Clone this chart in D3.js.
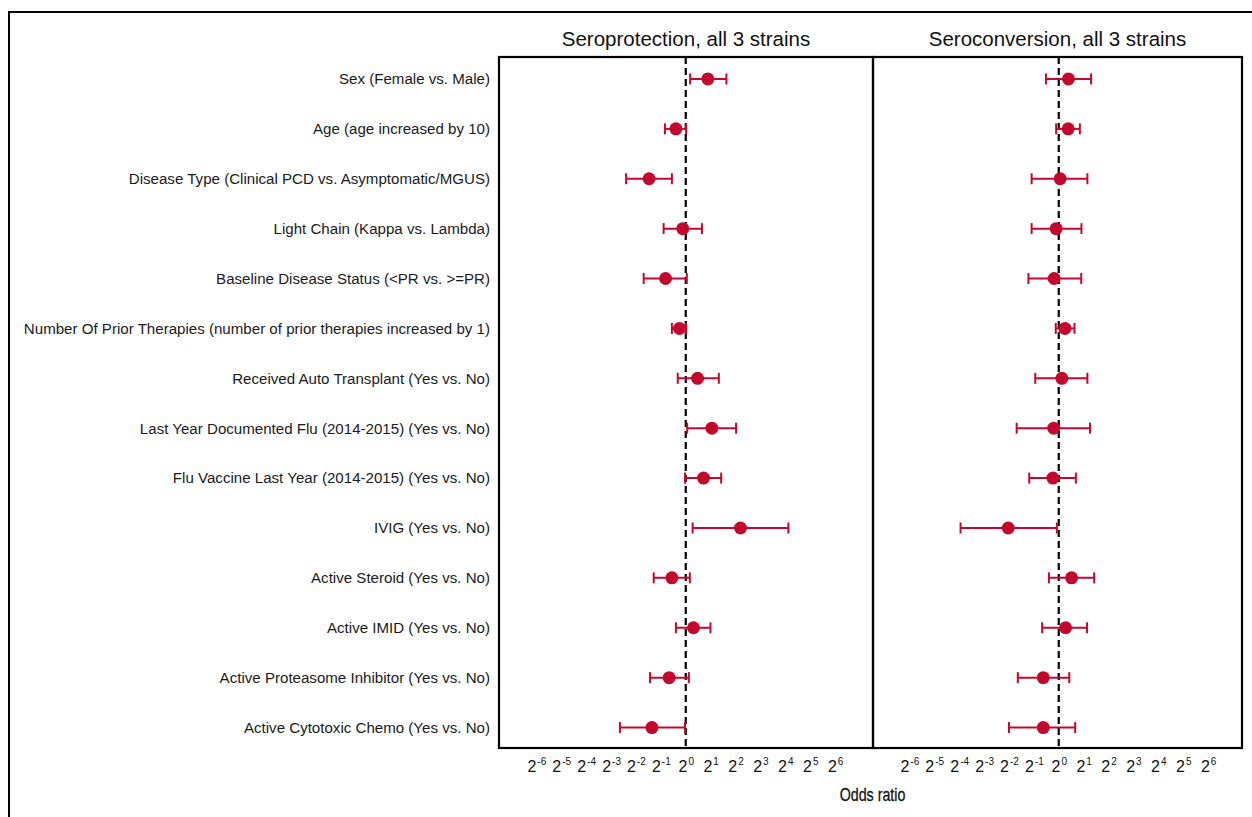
<!DOCTYPE html>
<html lang="en">
<head>
    <meta charset="UTF-8">
    <title>Seroprotection / Seroconversion odds ratios</title>
    <style>
        body { margin: 0; background: #fff; }
        .row-label text { font-family: "Liberation Sans", Arial, sans-serif; font-size: 15.1px; fill: #1a1a1a; }
        .panel-title { font-family: "Liberation Sans", Arial, sans-serif; font-size: 20.5px; fill: #111; text-anchor: middle; }
        .x-axis text { font-family: "Liberation Sans", Arial, sans-serif; font-size: 16px; fill: #111; }
        .axis-title { font-family: "Liberation Sans", Arial, sans-serif; font-size: 19px; fill: #111; text-anchor: middle; stroke: #111; stroke-width: 0.3px; }
    </style>
</head>
<body>
    <script src="https://d3js.org/d3.v7.min.js"></script>
    <script>
        // Covariates (rows, top to bottom)
        const categories = [
            "Sex (Female vs. Male)",
            "Age (age increased by 10)",
            "Disease Type (Clinical PCD vs. Asymptomatic/MGUS)",
            "Light Chain (Kappa vs. Lambda)",
            "Baseline Disease Status (<PR vs. >=PR)",
            "Number Of Prior Therapies (number of prior therapies increased by 1)",
            "Received Auto Transplant (Yes vs. No)",
            "Last Year Documented Flu (2014-2015) (Yes vs. No)",
            "Flu Vaccine Last Year (2014-2015) (Yes vs. No)",
            "IVIG (Yes vs. No)",
            "Active Steroid (Yes vs. No)",
            "Active IMID (Yes vs. No)",
            "Active Proteasome Inhibitor (Yes vs. No)",
            "Active Cytotoxic Chemo (Yes vs. No)"
        ];

        const panelTitles = ["Seroprotection, all 3 strains", "Seroconversion, all 3 strains"];

        // odds ratios
        const sproEst  = [1.85, 0.76, 0.36, 0.92, 0.57, 0.84, 1.39, 2.07, 1.64, 4.59, 0.68, 1.24, 0.63, 0.39];
        const sproLow  = [1.13, 0.56, 0.19, 0.54, 0.31, 0.68, 0.80, 1.04, 0.98, 1.21, 0.41, 0.76, 0.37, 0.16];
        const sproHigh = [3.10, 1.01, 0.68, 1.57, 1.03, 1.01, 2.51, 4.06, 2.68, 17.4, 1.12, 1.99, 1.09, 0.98];

        const sconEst  = [1.31, 1.30, 1.04, 0.93, 0.88, 1.19, 1.09, 0.87, 0.85, 0.245, 1.43, 1.21, 0.65, 0.65];
        const sconLow  = [0.70, 0.93, 0.47, 0.47, 0.43, 0.92, 0.52, 0.31, 0.44, 0.065, 0.76, 0.63, 0.32, 0.25];
        const sconHigh = [2.46, 1.80, 2.22, 1.88, 1.87, 1.55, 2.22, 2.39, 1.61, 0.95, 2.68, 2.20, 1.34, 1.58];

        // tick labels are 2^k
        const tickExponents = [-6, -5, -4, -3, -2, -1, 0, 1, 2, 3, 4, 5, 6];

        const red = "#c3082d";
        const W = 1252, H = 817;
        const yTop = 57, yBottom = 748;

        const svg = d3.select("body").append("svg").attr("width", W).attr("height", H);

        // outer frame (cropped on right and bottom)
        svg.append("path")
            .attr("d", `M9,${H} V12 H${W}`)
            .attr("fill", "none")
            .attr("stroke", "#000")
            .attr("stroke-width", 2);

        const y = d3.scalePoint()
            .domain(categories)
            .range([yTop + 0.5, yBottom + 1])
            .padding(0.43);

        // row labels
        svg.append("g")
            .attr("class", "row-label")
            .attr("transform", "translate(499,0)")
            .call(d3.axisLeft(y).tickSize(0).tickPadding(9))
            .call(g => g.select(".domain").remove());

        const panels = [
            { title: panelTitles[0], est: sproEst, low: sproLow, high: sproHigh, x0: 499, x1: 873, dom: [-7.5, 7.52] },
            { title: panelTitles[1], est: sconEst, low: sconLow, high: sconHigh, x0: 873, x1: 1242, dom: [-7.46, 7.36] }
        ];

        panels.forEach(p => {
            const x = d3.scaleLog().base(2)
                .domain(p.dom.map(e => Math.pow(2, e)))
                .range([p.x0, p.x1]);

            const g = svg.append("g");

            // reference line at OR = 1
            g.append("line")
                .attr("x1", x(1)).attr("x2", x(1))
                .attr("y1", yTop).attr("y2", yBottom)
                .attr("stroke", "#000")
                .attr("stroke-width", 2.2)
                .attr("stroke-dasharray", "7,4");

            const rows = g.selectAll(".row")
                .data(categories)
                .enter().append("g")
                .attr("class", "row");

            rows.append("line")
                .attr("x1", (d, i) => x(p.low[i]))
                .attr("x2", (d, i) => x(p.high[i]))
                .attr("y1", d => y(d)).attr("y2", d => y(d))
                .attr("stroke", red).attr("stroke-width", 2);

            ["low", "high"].forEach(k => {
                rows.append("line")
                    .attr("x1", (d, i) => x(p[k][i]))
                    .attr("x2", (d, i) => x(p[k][i]))
                    .attr("y1", d => y(d) - 5.5)
                    .attr("y2", d => y(d) + 5.5)
                    .attr("stroke", red).attr("stroke-width", 2);
            });

            rows.append("circle")
                .attr("cx", (d, i) => x(p.est[i]))
                .attr("cy", d => y(d))
                .attr("r", 6.5)
                .attr("fill", red);

            // panel frame
            g.append("rect")
                .attr("x", p.x0).attr("y", yTop)
                .attr("width", p.x1 - p.x0).attr("height", yBottom - yTop)
                .attr("fill", "none")
                .attr("stroke", "#000")
                .attr("stroke-width", 2.2);

            g.append("text")
                .attr("class", "panel-title")
                .attr("x", (p.x0 + p.x1) / 2)
                .attr("y", 46)
                .text(p.title);

            // x axis with 2^k labels
            const ax = g.append("g")
                .attr("class", "x-axis")
                .attr("transform", `translate(0,${yBottom})`)
                .call(d3.axisBottom(x)
                    .tickValues(tickExponents.map(e => Math.pow(2, e)))
                    .tickSize(0)
                    .tickPadding(13)
                    .tickFormat(""));
            ax.select(".domain").remove();
            ax.selectAll(".tick text").each(function(d) {
                const t = d3.select(this);
                const e = Math.round(Math.log2(d));
                t.append("tspan").text("2");
                t.append("tspan")
                    .attr("dy", -7)
                    .attr("dx", 1)
                    .style("font-size", "10px")
                    .text(e);
            });
        });

        // condensed axis title
        svg.append("text")
            .attr("class", "axis-title")
            .attr("transform", "translate(872.5,801) scale(0.75,1)")
            .text("Odds ratio");
    </script>
</body>
</html>
